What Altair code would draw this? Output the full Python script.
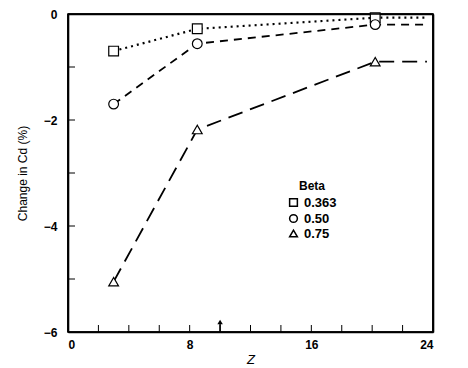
import altair as alt
import pandas as pd

# Data
betas = ["0.363", "0.50", "0.75"]
z_pts = [3, 8.5, 20.2]
beta_0363 = [-0.70, -0.28, -0.07]
beta_050 = [-1.70, -0.56, -0.20]
beta_075 = [-5.05, -2.18, -0.90]
z_end = 23.6  # lines continue flat past the last marker
x_minor_ticks = [2, 4, 6, 8, 10, 12, 14, 16, 18, 20, 22]
y_minor_ticks = [-5, -4, -3, -2, -1]
x_labels = [0, 8, 16, 24]
y_labels = [0, -2, -4, -6]
frame_x = [0, 24]
frame_y = [-6, 0]
arrow_z = [10]

series = {"0.363": beta_0363, "0.50": beta_050, "0.75": beta_075}
dashes = {"0.363": [2, 4], "0.50": [8, 6], "0.75": [15, 8]}
widths = {"0.363": 2.2, "0.50": 1.8, "0.75": 1.8}
pts_rows, line_rows = [], []
for b in betas:
    vals = series[b]
    for z, v in zip(z_pts, vals):
        pts_rows.append({"Beta": b, "Z": z, "C": v})
        line_rows.append({"Beta": b, "Z": z, "C": v})
    line_rows.append({"Beta": b, "Z": z_end, "C": vals[-1]})
pts = pd.DataFrame(pts_rows)
lines = pd.DataFrame(line_rows)

W, H = 365, 318
FONT = "Liberation Sans"

xs = alt.Scale(domain=[0, 24], nice=False, zero=False)
ys = alt.Scale(domain=[-6, 0], nice=False, zero=False)

x_enc = alt.X("Z:Q", scale=xs, title="Z",
              axis=alt.Axis(values=x_labels, tickSize=0, domain=True, domainColor="black",
                            domainWidth=1.6, grid=False,
                            labelPadding=7, labelFontSize=12, labelFontWeight="bold",
                            labelFont=FONT, labelColor="black",
                            titleFont=FONT, titleFontSize=13, titleFontStyle="italic",
                            titleFontWeight="normal", titlePadding=3, titleColor="black"))
y_enc = alt.Y("C:Q", scale=ys, title="Change in Cd (%)",
              axis=alt.Axis(values=y_labels, tickSize=0, domain=True, domainColor="black",
                            domainWidth=1.6, grid=False,
                            labelPadding=11, labelFontSize=12, labelFontWeight="bold",
                            labelFont=FONT, labelColor="black",
                            titleFont=FONT, titleFontSize=12, titleFontWeight="normal",
                            titlePadding=14, titleColor="black"))

line_layers = []
for i, b in enumerate(betas):
    enc_x = x_enc if i == 0 else alt.X("Z:Q", scale=xs, axis=None)
    enc_y = y_enc if i == 0 else alt.Y("C:Q", scale=ys, axis=None)
    line_layers.append(
        alt.Chart(lines).transform_filter(alt.datum.Beta == b)
        .mark_line(color="black", strokeWidth=widths[b], strokeDash=dashes[b])
        .encode(x=enc_x, y=enc_y)
    )

point_layer = alt.Chart(pts).mark_point(filled=False, fill="white", fillOpacity=1,
                                        color="black", strokeWidth=1.2, opacity=1, size=95).encode(
    x=alt.X("Z:Q", scale=xs, axis=None), y=alt.Y("C:Q", scale=ys, axis=None),
    shape=alt.Shape("Beta:N", scale=alt.Scale(domain=betas, range=["square", "circle", "triangle-up"]),
                    legend=alt.Legend(title="Beta", orient="none", legendX=219, legendY=167,
                                      titleFont=FONT, titleFontSize=12, titleFontWeight="bold",
                                      titleAnchor="middle", titleColor="black", titlePadding=3,
                                      labelFont=FONT, labelFontSize=13, labelFontWeight="bold",
                                      labelColor="black", symbolSize=60, rowPadding=1)),
)

# Frame: top and right edges drawn as axis domain lines (labels and ticks off)
frame_v = alt.Chart(pd.DataFrame({"fx": frame_x})).mark_rule(color="black", strokeWidth=1.6).encode(
    x=alt.X("fx:Q", scale=xs, title=None,
            axis=alt.Axis(orient="top", labels=False, ticks=False, grid=False, domain=True,
                          domainColor="black", domainWidth=1.6)),
    y=alt.value(0), y2=alt.value(H))
frame_h = alt.Chart(pd.DataFrame({"fy": frame_y})).mark_rule(color="black", strokeWidth=1.6).encode(
    y=alt.Y("fy:Q", scale=ys, title=None,
            axis=alt.Axis(orient="right", labels=False, ticks=False, grid=False, domain=True,
                          domainColor="black", domainWidth=1.6)),
    x=alt.value(0), x2=alt.value(W))

xt = alt.Chart(pd.DataFrame({"t": x_minor_ticks})).mark_rule(color="black", strokeWidth=1).encode(
    x=alt.X("t:Q", scale=xs, axis=None), y=alt.value(H), y2=alt.value(H - 7))
yt = alt.Chart(pd.DataFrame({"t": y_minor_ticks})).mark_rule(color="black", strokeWidth=1).encode(
    y=alt.Y("t:Q", scale=ys, axis=None), x=alt.value(0), x2=alt.value(7))

arrow_df = pd.DataFrame({"a": arrow_z})
arrow_shaft = alt.Chart(arrow_df).mark_rule(color="black", strokeWidth=1.5).encode(
    x=alt.X("a:Q", scale=xs, axis=None), y=alt.value(H), y2=alt.value(H - 8))
arrow_head = alt.Chart(arrow_df).mark_point(shape="triangle-up", filled=True, color="black",
                                            size=30, opacity=1).encode(
    x=alt.X("a:Q", scale=xs, axis=None), y=alt.value(H - 10))

chart = alt.layer(*line_layers, point_layer, frame_v, frame_h,
                  xt, yt, arrow_shaft, arrow_head).resolve_axis(
    x="independent", y="independent"
).properties(
    width=W, height=H,
    autosize=alt.AutoSizeParams(type="none"),
    padding={"left": 60, "top": 6, "right": 27, "bottom": 36},
).configure(background="white").configure_view(stroke="black", strokeWidth=1.6)

chart.save("out.html", embed_options={"renderer": "svg", "actions": False})
